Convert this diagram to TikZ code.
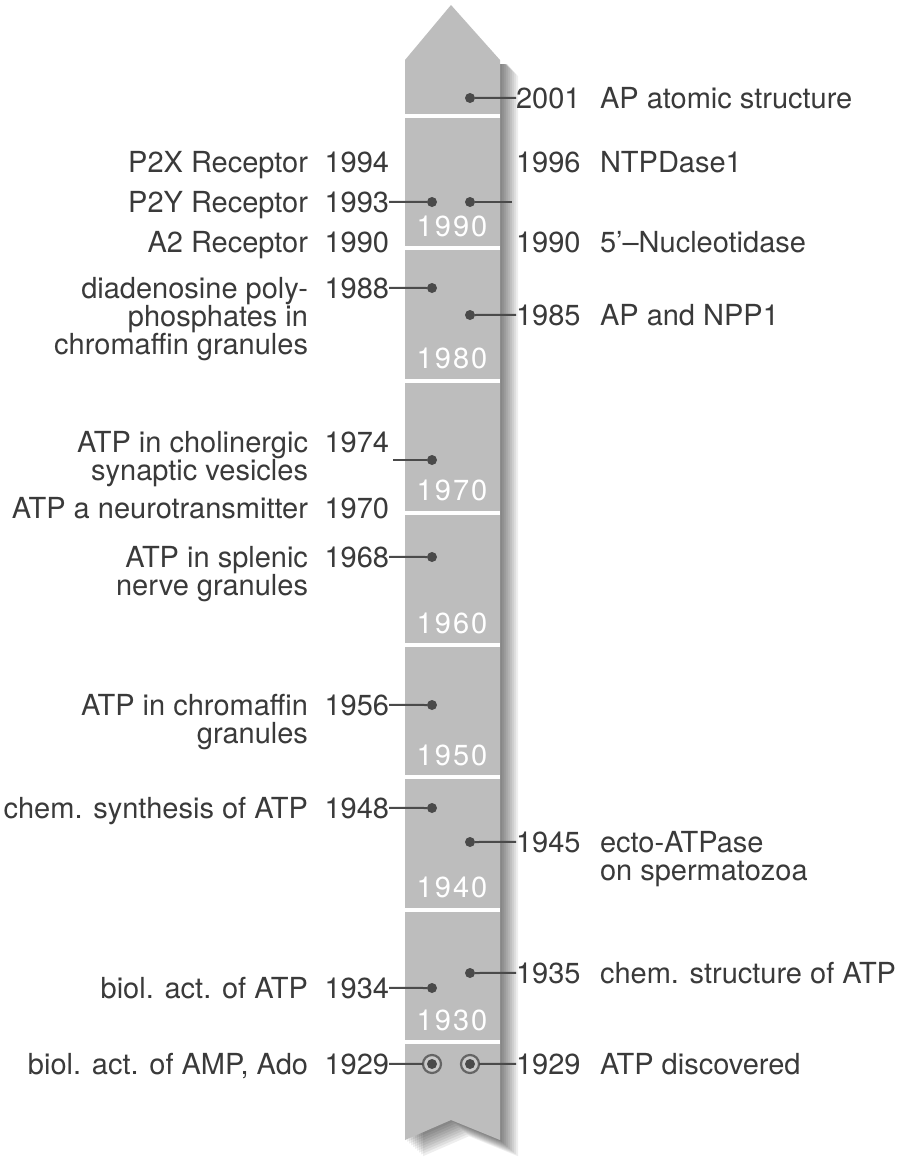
\documentclass[tikz,border=0pt]{standalone}
\usepackage{fontspec}
\setmainfont{TeX Gyre Heros}
\usepackage{tikz}
\usetikzlibrary{positioning}
\definecolor{barfill}{HTML}{BDBDBD}
\definecolor{inkgray}{HTML}{3A3A3A}
\definecolor{dotgray}{HTML}{4A4A4A}

\begin{document}
\begin{tikzpicture}[
x=0.5pt, y=-0.5pt,
every node/.style={inner sep=0, outer sep=0},
labeltext/.style={text=inkgray, font=\fontsize{14.5}{14}\selectfont},
decade/.style={text=white, font=\fontsize{14.5}{14}\selectfont\addfontfeature{LetterSpace=7}},
dot/.style={circle, fill=dotgray, minimum size=5pt},
ringdot/.style={circle, draw=dotgray!85, line width=1.1pt, fill=barfill!80, minimum size=9pt},
conn/.style={draw=dotgray, line width=1pt},
sepline/.style={draw=white, line width=2pt}
]
\useasboundingbox (0,0) rectangle (923,1158);
\fill[white] (0,0) rectangle (923,1158);

% Shadow and bar
\begin{scope}
\clip (400,64) rectangle (560,1158);
\foreach \s in {2,4,...,18}{
    \fill[black, opacity=0.065, shift={(\s,\s*0.9)}] (405,60) -- (451,5) -- (500,60) -- (500,1140) -- (451,1120) -- (405,1140) -- cycle;
}
\end{scope}
\fill[barfill] (405,60) -- (451,5) -- (500,60) -- (500,1140) -- (451,1120) -- (405,1140) -- cycle;

% Decades
\foreach \k in {0,...,7}{
    \draw[sepline] (405,1042-132.3*\k) -- (500,1042-132.3*\k);
}
\foreach \k/\dec in {0/1930,1/1940,2/1950,3/1960,4/1970,5/1980,6/1990}{
    \node[decade] (dec\dec) at (452,1020-132.3*\k) {\dec};
}

% Left side (\nl = number of lines)
\foreach \yr/\ty/\nl/\txt in {1994/162/1/{P2X Receptor}, 1993/202/1/{P2Y Receptor}, 1990/242/1/{A2 Receptor},
    1988/288/3/{diadenosine poly-\\phosphates in\\chromaffin granules},
    1974/442/2/{ATP in cholinergic\\synaptic vesicles}, 1970/508/1/{ATP a neurotransmitter},
    1968/557/2/{ATP in splenic\\nerve granules}, 1956/705/2/{ATP in chromaffin\\granules},
    1948/808/1/{chem. synthesis of ATP}, 1934/988/1/{biol. act. of ATP},
    1929/1064/1/{biol. act. of AMP, Ado}}{
    \node[labeltext, anchor=base east] (ly\yr) at (389,\ty+10) {\yr};
    \node[labeltext, anchor=base east, align=right] (lt\yr) at (308,\ty+10+28*\nl-28) {\txt};
}

% Right side
\foreach \yr/\ty/\nl/\txt in {2001/98/1/{AP atomic structure}, 1996/162/1/{NTPDase1},
    1990/242/1/{5’–Nucleotidase}, 1985/315/1/{AP and NPP1},
    1945/842/2/{ecto-ATPase\\on spermatozoa}, 1935/973/1/{chem. structure of ATP},
    1929/1064/1/{ATP discovered}}{
    \node[labeltext, anchor=base west] (ry\yr) at (516,\ty+10) {\yr};
    \node[labeltext, anchor=base west, align=left] (rt\yr) at (600,\ty+10+28*\nl-28) {\txt};
}

% Dots
\node[ringdot] (rl1929) at (432,1064) {};
\node[ringdot] (rr1929) at (470,1064) {};
\foreach \yr/\ty in {1993/202,1988/288,1974/460,1968/557,1956/705,1948/808,1934/988,1929/1064}{
    \node[dot] (dl\yr) at (432,\ty) {};
}
\foreach \yr/\ty in {2001/98,1993/202,1985/315,1945/842,1935/973,1929/1064}{
    \node[dot] (dr\yr) at (470,\ty) {};
}
\coordinate (cl1974) at (393,460);
\coordinate (cr1993) at (512,202);

% Connectors
\foreach \yr in {1993,1988,1968,1956,1948,1934}{
    \draw[conn] (ly\yr.east) -- (dl\yr);
}
\draw[conn] (ly1929.east) -- (rl1929);
\draw[conn] (cl1974) -- (dl1974);
\foreach \yr in {2001,1985,1945,1935}{
    \draw[conn] (dr\yr) -- (ry\yr.west);
}
\draw[conn] (rr1929) -- (ry1929.west);
\draw[conn] (dr1993) -- (cr1993);
\end{tikzpicture}
\end{document}
